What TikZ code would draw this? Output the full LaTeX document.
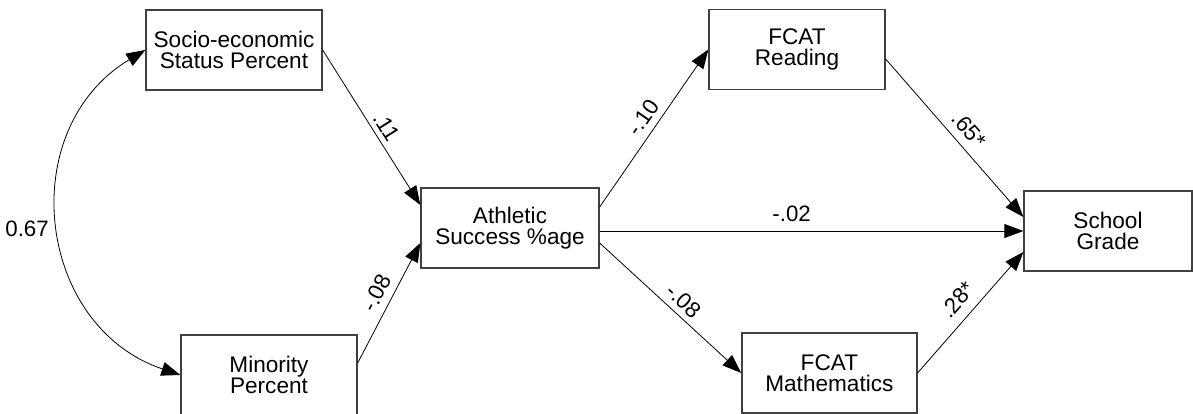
\documentclass[tikz,border=0pt]{standalone}
\usepackage{fontspec}
\setmainfont{Liberation Sans}
\usetikzlibrary{arrows.meta,calc}
\begin{document}
\begin{tikzpicture}[x=1pt,y=1pt,
  box/.style={draw=black!75,line width=1.3pt,minimum height=80pt,align=center,inner sep=0pt,font=\fontsize{22.6}{21.4}\selectfont},
  conn/.style={-{Triangle[length=19pt,width=14pt]},line width=0.8pt},
  biconn/.style={{Triangle[length=19pt,width=14pt]}-{Triangle[length=19pt,width=14pt]},line width=0.8pt},
  lab/.style={sloped,inner sep=0pt,font=\fontsize{22.3}{22}\selectfont}]
\useasboundingbox (0,0) rectangle (1193,-414);
\clip (0,0) rectangle (1193,-414);
\node[box,minimum width=176pt] (ses) at (234,-50) {Socio-economic\\Status Percent};
\node[box,minimum width=176pt] (min) at (269,-375) {Minority\\Percent};
\node[box,minimum width=178pt] (ath) at (510,-228) {Athletic\\Success \%age};
\node[box,minimum width=176pt] (read) at (797,-49.5) {FCAT\\Reading};
\node[box,minimum width=175pt] (math) at (829.4,-373) {FCAT\\Mathematics};
\node[box,minimum width=168pt] (school) at (1108,-231) {School\\Grade};
\node[anchor=east,inner sep=0pt,font=\fontsize{22.3}{22}\selectfont] (corr) at (49,-229) {0.67};

\draw[biconn] (ses.west) .. controls +(211:153) and +(161.3:153) .. (min.west);
\draw[conn] (ses.east) -- node[lab,above=5.6pt,pos=0.54]{.11} ($(ath.west)+(0,23)$);
\draw[conn] ($(min.east)+(0,12)$) -- node[lab,above=7.3pt,pos=0.524]{-.08} ($(ath.west)+(0,-15)$);
\draw[conn] ($(ath.east)+(0,21)$) -- node[lab,above=6.9pt,pos=0.515]{-.10} (read.west);
\draw[conn] (ath.east |- school.west) -- node[lab,above=8.6pt,pos=0.453]{-.02} (school.west);
\draw[conn] ($(ath.east)+(0,-15)$) -- node[lab,above=6.3pt,pos=0.527]{-.08} (math.west);
\draw[conn] ($(read.east)+(0,-9.5)$) -- node[lab,above=8.2pt,pos=0.517]{.65*} ($(school.west)+(0,14)$);
\draw[conn] (math.east) -- node[lab,above=9.7pt,pos=0.507]{.28*} ($(school.west)+(0,-21)$);
\end{tikzpicture}
\end{document}
